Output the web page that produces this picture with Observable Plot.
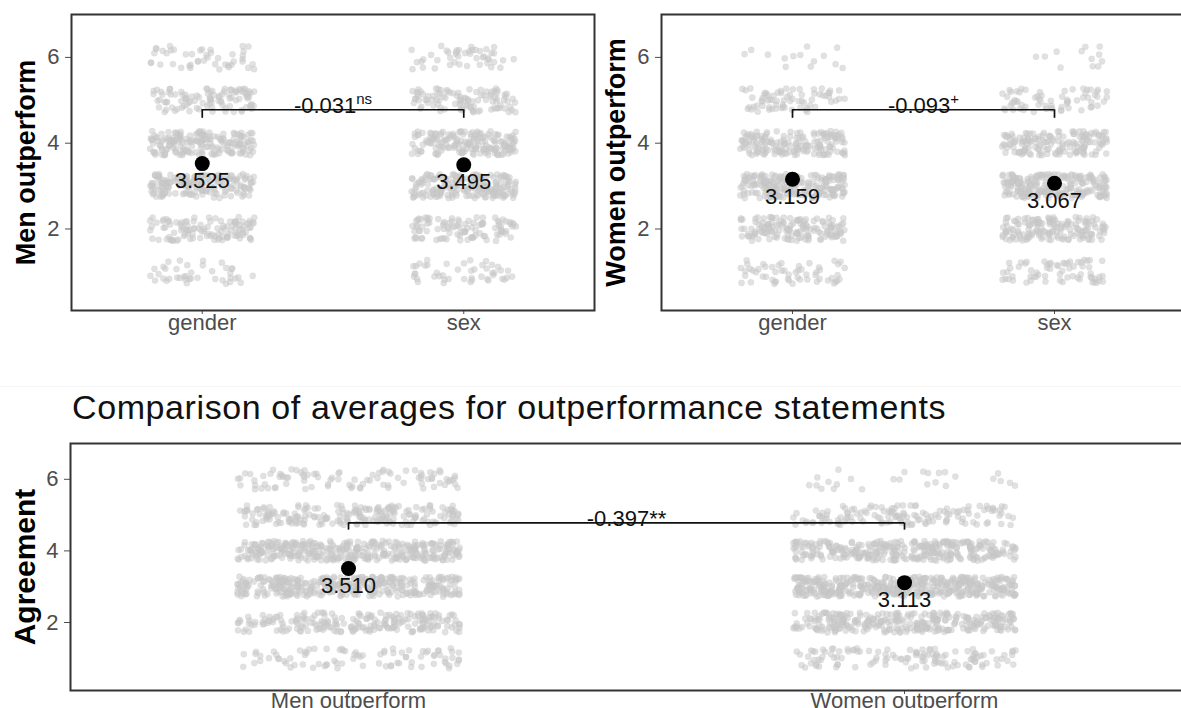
<!DOCTYPE html>
<html><head><meta charset="utf-8">
<script src="https://cdn.jsdelivr.net/npm/d3@7"></script>
<script src="https://cdn.jsdelivr.net/npm/@observablehq/plot@0.6"></script>
<style>
html,body{margin:0;padding:0;background:#fff;width:1181px;height:708px;overflow:hidden;font-family:"Liberation Sans",Arial,sans-serif;}
.panel{position:absolute;}
.panel svg{max-width:none !important;display:block;}
#title{position:absolute;left:72px;top:390px;font-size:34px;letter-spacing:0.6px;line-height:1;color:#111;white-space:nowrap;}
#sep{position:absolute;left:0;top:386px;width:1181px;height:1px;background:#f4f4f4;}
</style></head><body>
<div id="sep"></div>
<div id="p1" class="panel" style="left:0;top:0;width:602px"></div>
<div id="p2" class="panel" style="left:590px;top:0;width:603px"></div>
<div id="title">Comparison of averages for outperformance statements</div>
<div id="p3" class="panel" style="left:0;top:433px;width:1192px"></div>
<script>
// ---- data ----
const levels = [1, 2, 3, 4, 5, 6];
const topCategories = ["gender", "sex"];
const bottomCategories = ["Men outperform", "Women outperform"];
// number of respondents at each agreement level (1..6), estimated from the point clouds
const menGenderCounts   = [40, 110, 170, 180, 100, 45];
const menSexCounts      = [45, 100, 185, 170, 100, 45];
const womenGenderCounts = [55, 145, 215, 165, 70, 14];
const womenSexCounts    = [65, 155, 220, 155, 65, 12];
const bottomMenCounts   = [85, 210, 355, 350, 200, 90];
const bottomWomenCounts = [120, 300, 435, 320, 135, 26];
const menMeans = [3.525, 3.495];
const womenMeans = [3.159, 3.067];
const bottomMeans = [3.510, 3.113];
const diffLabels = ["-0.031", "-0.093", "-0.397"];
const sigLabels = ["ns", "+", "**"];
const bracketY = 4.78;
const bracketTipY = 4.58;
const yTicks = [2, 4, 6];

// deterministic jitter layout (hash of the point index)
function hash(n) { const s = Math.sin(n * 12.9898 + 78.233) * 43758.5453; return s - Math.floor(s); }

function makePoints(countsByCat, seed) {
  const pts = [];
  countsByCat.forEach((counts, ci) => {
    counts.forEach((n, li) => {
      for (let k = 0; k < n; k++) {
        const id = seed * 7919 + ci * 3001 + li * 401 + k;
        pts.push({
          x: ci + 1 + (hash(id * 1.37 + 0.11) - 0.5) * 0.4,
          y: levels[li] + (hash(id * 2.71 + 5.3) - 0.5) * 0.56
        });
      }
    });
  });
  return pts;
}

function panel(o) {
  const pts = makePoints(o.counts, o.seed);
  const means = o.means.map((m, i) => ({x: i + 1, y: m}));
  const bracket = [{x1: 1, x2: 2, y: bracketY}];
  const tips = [{x: 1}, {x: 2}];
  const svg = Plot.plot({
    width: o.width, height: o.height,
    marginLeft: o.marginLeft, marginRight: o.marginRight,
    marginTop: o.marginTop, marginBottom: o.marginBottom,
    style: {fontFamily: "Liberation Sans, Arial, sans-serif", background: "none", overflow: "visible"},
    x: {domain: [0.5, 2.5]},
    y: {domain: [0.1, 7.0]},
    marks: [
      Plot.dot(pts, {x: "x", y: "y", r: 3.1, fill: "#c8c8c8", fillOpacity: 0.55, stroke: "#bbbbbb", strokeOpacity: 0.25, strokeWidth: 0.6}),
      Plot.ruleY(bracket, {y: "y", x1: "x1", x2: "x2", stroke: "#111", strokeWidth: 1.7}),
      Plot.ruleX(tips, {x: "x", y1: bracketTipY, y2: bracketY, stroke: "#111", strokeWidth: 1.7}),
      Plot.text(bracket, {x: d => (d.x1 + d.x2) / 2, y: "y", text: () => o.diff, lineAnchor: "bottom", dy: 3, fontSize: 22, fill: "#111"}),
      Plot.dot(means, {x: "x", y: "y", r: 7.5, fill: "black"}),
      Plot.text(means, {x: "x", y: "y", text: d => d.y.toFixed(3), lineAnchor: "top", dy: 9, fontSize: 22, fill: "#111"}),
      Plot.axisY({ticks: yTicks, tickFormat: "d", tickSize: 6, tickPadding: 6, fontSize: 22, color: "#4d4d4d", label: null}),
      Plot.axisX({ticks: [1, 2], tickFormat: i => o.categories[i - 1], tickSize: 4, tickPadding: o.xPad, fontSize: 22, color: "#4d4d4d", label: null}),
      Plot.frame({stroke: "#333", strokeWidth: 2}),
      Plot.text([o.yLabel], {text: d => d, frameAnchor: "left", textAnchor: "middle", dx: -45, rotate: -90, fontWeight: "bold", fontSize: o.titleSize, fill: "#000"})
    ]
  });
  // superscript significance marker
  svg.querySelectorAll("text").forEach(t => {
    if (t.textContent === o.diff && t.children.length === 0) {
      const ts = document.createElementNS("http://www.w3.org/2000/svg", "tspan");
      ts.textContent = o.sig;
      if (o.sig !== "**") { ts.setAttribute("font-size", "15"); ts.setAttribute("dy", "-0.55em"); }
      t.appendChild(ts);
    }
  });
  return svg;
}

document.getElementById("p1").appendChild(panel({
  categories: topCategories, counts: [menGenderCounts, menSexCounts], means: menMeans,
  diff: diffLabels[0], sig: sigLabels[0], yLabel: "Men outperform", seed: 1, titleSize: 27, xPad: 0,
  width: 602, height: 350, marginLeft: 71, marginRight: 8, marginTop: 14, marginBottom: 40
}));
document.getElementById("p2").appendChild(panel({
  categories: topCategories, counts: [womenGenderCounts, womenSexCounts], means: womenMeans,
  diff: diffLabels[1], sig: sigLabels[1], yLabel: "Women outperform", seed: 2, titleSize: 27, xPad: 0,
  width: 603, height: 350, marginLeft: 71, marginRight: 8, marginTop: 14, marginBottom: 40
}));
document.getElementById("p3").appendChild(panel({
  categories: bottomCategories, counts: [bottomMenCounts, bottomWomenCounts], means: bottomMeans,
  diff: diffLabels[2], sig: sigLabels[2], yLabel: "Agreement", seed: 3, titleSize: 30, xPad: -2,
  width: 1192, height: 290, marginLeft: 70, marginRight: 10, marginTop: 10, marginBottom: 33
}));
</script>
</body></html>
